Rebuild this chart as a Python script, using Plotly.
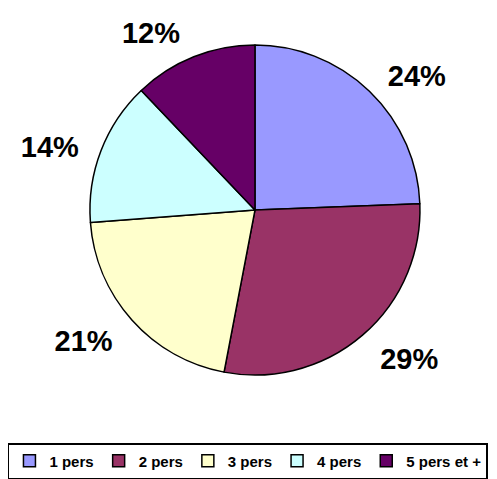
import plotly.graph_objects as go

labels = ["1 pers", "2 pers", "3 pers", "4 pers", "5 pers et +"]
shares = [24.4, 28.6, 20.8, 14.1, 12.1]
colors = ["#9999FF", "#993366", "#FFFFCC", "#CCFFFF", "#660066"]

FONT = "Arial, Liberation Sans, sans-serif"

fig = go.Figure()

# transparent, slightly larger pie that only carries the outside labels
fig.add_trace(
    go.Pie(
        labels=labels,
        values=shares,
        sort=False,
        direction="clockwise",
        rotation=0,
        marker=dict(colors=["rgba(0,0,0,0)"] * 5, line=dict(width=0)),
        textposition="outside",
        texttemplate="%{percent:.0%}",
        textfont=dict(family=FONT, size=29, color="black", weight="bold"),
        showlegend=False,
        hoverinfo="skip",
        domain=dict(x=[0.151, 0.875], y=[0.175, 0.933]),
    )
)

fig.add_trace(
    go.Pie(
        labels=labels,
        values=shares,
        sort=False,
        direction="clockwise",
        rotation=0,
        marker=dict(colors=colors, line=dict(color="black", width=1.5)),
        textinfo="none",
        domain=dict(x=[0.181, 0.845], y=[0.217, 0.906]),
    )
)

fig.update_layout(
    width=497,
    height=479,
    margin=dict(l=0, r=0, t=0, b=0),
    paper_bgcolor="white",
    plot_bgcolor="white",
    font=dict(family=FONT, color="black"),
    legend=dict(
        orientation="h",
        x=0.016,
        y=0.075,
        xanchor="left",
        yanchor="top",
        font=dict(family=FONT, size=15, color="black", weight="bold"),
        bordercolor="black",
        borderwidth=1.5,
        itemwidth=30,
        tracegroupgap=0,
    ),
)

# page body has a default 8px margin; drop it so the figure sits at 0,0
fig.write_html(
    "out.html",
    config={"displayModeBar": False},
    post_script="document.body.style.margin='0';",
)
